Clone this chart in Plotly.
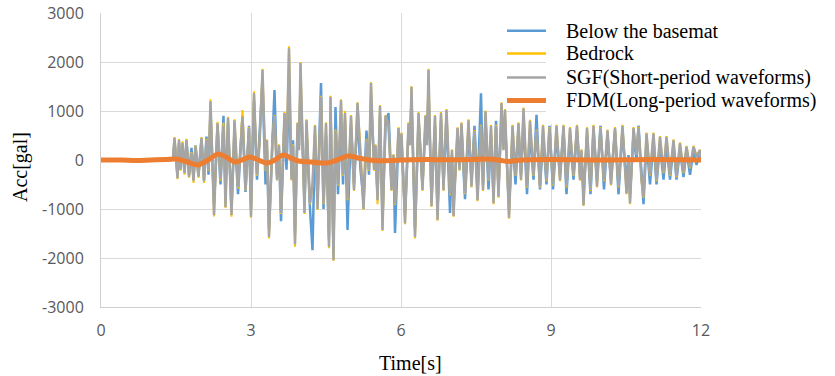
import plotly.graph_objects as go

# ---------------- data ----------------
TIME = [0.00, 1.40, 1.44, 1.47, 1.53, 1.56, 1.59, 1.63, 1.67, 1.71, 1.76, 1.81, 1.85, 1.89, 1.95,
        2.01, 2.06, 2.11, 2.15, 2.19, 2.26, 2.33, 2.39, 2.45, 2.49, 2.54, 2.61, 2.67, 2.74, 2.83,
        2.89, 2.96, 3.00, 3.06, 3.12, 3.17, 3.23, 3.29, 3.32, 3.36, 3.43, 3.47, 3.52, 3.56, 3.60,
        3.67, 3.71, 3.76, 3.81, 3.84, 3.88, 3.93, 3.96, 3.99, 4.07, 4.11, 4.18, 4.23, 4.28, 4.33,
        4.40, 4.45, 4.50, 4.56, 4.59, 4.65, 4.69, 4.74, 4.80, 4.84, 4.88, 4.93, 5.00, 5.06, 5.13,
        5.19, 5.25, 5.31, 5.36, 5.40, 5.46, 5.49, 5.53, 5.58, 5.63, 5.69, 5.75, 5.81, 5.85, 5.88,
        5.95, 5.98, 6.01, 6.08, 6.15, 6.18, 6.21, 6.28, 6.35, 6.43, 6.49, 6.52, 6.55, 6.61, 6.68,
        6.73, 6.80, 6.85, 6.91, 6.98, 7.02, 7.05, 7.13, 7.17, 7.21, 7.28, 7.35, 7.41, 7.47, 7.53,
        7.60, 7.64, 7.69, 7.75, 7.80, 7.85, 7.90, 7.95, 8.01, 8.05, 8.08, 8.16, 8.23, 8.29, 8.35,
        8.40, 8.45, 8.52, 8.58, 8.65, 8.71, 8.78, 8.84, 8.91, 8.97, 9.04, 9.11, 9.18, 9.25, 9.31,
        9.38, 9.45, 9.52, 9.58, 9.61, 9.65, 9.72, 9.79, 9.85, 9.92, 9.99, 10.06, 10.13, 10.20, 10.28,
        10.35, 10.43, 10.51, 10.55, 10.58, 10.65, 10.71, 10.75, 10.81, 10.85, 10.91, 10.98, 11.05, 11.11, 11.18,
        11.25, 11.31, 11.38, 11.45, 11.51, 11.58, 11.65, 11.71, 11.78, 11.85, 11.91, 11.98, 12.00]

SGF = [0, 0, 30, 450, -370, 410, -200, 350, -270, 410, -340, 140, -420, 270, -340,
       450, -430, 410, -200, 1200, -1120, 750, -400, 700, -960, 860, -1120, 810, -550, 880,
       -600, 650, -1160, 1360, -300, 300, 1840, -200, 400, -1570, 470, 900, -400, 300, -1080,
       960, 60, 2280, -400, 300, -1720, 750, 200, 1980, -1080, 810, -880, -500, 700, -1000,
       1290, -880, 750, -1770, 1290, -2040, 600, -500, 1220, -300, 960, -800, 900, -610, 1160,
       200, -1000, 410, -200, 1570, -200, 300, -820, 1100, -1430, 900, 700, -610, 100, -900,
       650, 0, 540, -1290, 750, 300, 1490, -1570, 960, -610, 900, 300, 1840, -940, 900,
       -1220, 960, -610, 1020, -700, 200, -1140, 650, -200, 750, -680, 810, -540, 590, -820,
       700, -610, 990, -400, 700, -880, 700, -750, 1160, 200, 1020, -1180, 700, -300, 750,
       -400, 1050, -540, 800, -300, 600, -540, 700, -410, 650, -500, 700, -410, 700, -540,
       650, -300, 700, -400, 200, -920, 650, -610, 700, -540, 650, -410, 600, -500, 650,
       -540, 700, -680, 0, -880, 650, 100, 650, -410, -750, 540, -300, 540, -410, 470,
       -250, 470, -300, 400, -330, 340, -250, 270, -150, 270, 70, 200, 0]

BEDROCK = [0, 0, 30, 470, -390, 430, -220, 380, -300, 430, -360, 160, -470, 290, -360,
           470, -470, 430, -220, 1240, -1150, 780, -420, 760, -980, 880, -1160, 830, -580, 1020,
           -620, 670, -1180, 1400, -320, 320, 1860, -220, 420, -1600, 490, 920, -420, 320, -1100,
           980, 80, 2320, -420, 320, -1770, 770, 220, 2000, -1100, 830, -900, -520, 720, -1020,
           1310, -900, 770, -1800, 1310, -2060, 620, -520, 1240, -320, 1000, -820, 920, -630, 1180,
           220, -1020, 430, -220, 1590, -220, 320, -900, 1120, -1450, 920, 720, -630, 120, -920,
           670, 20, 560, -1310, 770, 320, 1510, -1600, 980, -630, 920, 320, 1860, -960, 920,
           -1240, 980, -630, 1040, -720, 220, -1160, 670, -220, 770, -700, 830, -560, 610, -840,
           720, -630, 1010, -420, 720, -900, 720, -770, 1180, 220, 1040, -1200, 720, -320, 770,
           -420, 1070, -560, 820, -320, 620, -560, 720, -430, 670, -520, 720, -430, 720, -560,
           670, -320, 720, -420, 220, -940, 670, -630, 720, -560, 670, -430, 620, -520, 670,
           -560, 720, -700, 20, -900, 670, 120, 670, -430, -770, 560, -320, 560, -430, 490,
           -270, 490, -320, 420, -350, 360, -270, 290, -170, 290, 80, 210, 0]

BASEMAT = [0, 0, 20, 380, -300, 350, -150, 300, -250, 380, -300, 250, -380, 300, -300,
           420, -400, 480, -300, 1000, -900, 700, -500, 900, -700, 750, -1000, 600, -700, 900,
           -650, 700, -1000, 1200, -400, 500, 1600, -500, 200, -1400, 600, 1430, -300, 200, -1250,
           800, -200, 1500, -300, 400, -1500, 600, 300, 1500, -900, 600, -1000, -1840, 500, -800,
           1570, -1000, 500, -1600, 1000, -1800, 1080, -700, 900, -500, 800, -1430, 700, -500, 900,
           -200, -800, 600, -300, 1200, 0, 200, -700, 900, -1200, 700, 960, -500, 0, -1490,
           500, 100, 400, -1100, 600, 400, 1200, -1400, 800, -500, 700, 400, 1400, -800, 700,
           -1000, 800, -500, 900, -1080, 100, -900, 500, -100, 600, -800, 600, -400, 700, -600,
           1360, -500, 800, -600, 500, -700, 800, -600, 900, 300, 800, -1000, 500, -500, 600,
           -300, 800, -700, 600, -400, 920, -600, 500, -500, 700, -600, 500, -300, 600, -700,
           500, -400, 600, -300, 100, -700, 500, -700, 600, -400, 700, -600, 500, -400, 600,
           -700, 600, -500, 100, -700, 500, 0, 700, -300, -900, 400, -500, 400, -500, 300,
           -400, 300, -400, 300, -400, 200, -350, 200, -300, 200, -100, 150, 0]

FDM_TIME = [0.0, 0.4, 0.7, 1.0, 1.3, 1.5, 1.7, 1.94, 2.14, 2.34, 2.52, 2.68, 2.84, 2.98, 3.15,
            3.32, 3.48, 3.64, 3.80, 3.95, 4.20, 4.52, 4.72, 4.94, 5.20, 5.52, 6.0, 6.5, 7.0, 7.4,
            7.72, 7.95, 8.12, 8.40, 9.0, 10.0, 11.0, 12.0]
FDM = [0, 0, -10, 0, 10, 20, -30, -100, 0, 120, 50, -40, 10, 60, 0,
       -60, 0, 100, 40, -20, -40, -60, 0, 80, 30, -15, 0, 10, 5, 10,
       20, 0, -30, 0, 10, 0, 10, 0]

X_TICKS = [0, 3, 6, 9, 12]
Y_TICKS = [-3000, -2000, -1000, 0, 1000, 2000, 3000]
Y_TICK_TEXT = ["-3000", "-2000", "-1000", "0", "1000", "2000", "3000"]

NAMES = ["Below the basemat", "Bedrock", "SGF(Short-period waveforms)", "FDM(Long-period waveforms)"]
COLORS = ["#5B9BD5", "#FFC000", "#A5A5A5", "#ED7D31"]

# ---------------- figure ----------------
fig = go.Figure()
fig.add_trace(go.Scatter(x=TIME, y=BASEMAT, mode="lines", name=NAMES[0],
                         line=dict(color=COLORS[0], width=2.5), showlegend=False))
fig.add_trace(go.Scatter(x=TIME, y=BEDROCK, mode="lines", name=NAMES[1],
                         line=dict(color=COLORS[1], width=2), showlegend=False))
fig.add_trace(go.Scatter(x=TIME, y=SGF, mode="lines", name=NAMES[2],
                         line=dict(color=COLORS[2], width=2.5), showlegend=False))
fig.add_trace(go.Scatter(x=FDM_TIME, y=FDM, mode="lines", name=NAMES[3],
                         line=dict(color=COLORS[3], width=5, shape="spline"), showlegend=False))

W, H = 835, 376
L, R, T, B = 101, 701, 13, 307    # plot-area edges in pixels


def px(xp):
    return (xp - L) / (R - L)


def py(yp):
    return (B - yp) / (B - T)


shapes = [dict(type="rect", xref="paper", yref="paper", x0=px(546), x1=px(W + 10),
               y0=py(124), y1=py(-10), fillcolor="white", line=dict(width=0), layer="above")]
annotations = []
rows_y = [30.7, 53.5, 77.5, 100.5]
widths = [2.5, 2.5, 2.5, 5]
for name, col, ry, lw in zip(NAMES, COLORS, rows_y, widths):
    shapes.append(dict(type="line", xref="paper", yref="paper", x0=px(507), x1=px(546),
                       y0=py(ry), y1=py(ry), line=dict(color=col, width=lw), layer="above"))
    annotations.append(dict(text=name, xref="paper", yref="paper", x=px(564), y=py(ry),
                            xanchor="left", yanchor="middle", showarrow=False,
                            font=dict(family="Liberation Serif", size=20, color="black")))

annotations.append(dict(text="Time[s]", xref="paper", yref="paper", x=px(410), y=py(363),
                        xanchor="center", yanchor="middle", showarrow=False,
                        font=dict(family="Liberation Serif", size=20, color="black")))
annotations.append(dict(text="Acc[gal]", xref="paper", yref="paper", x=px(20), y=py(167),
                        xanchor="center", yanchor="middle", showarrow=False, textangle=-90,
                        font=dict(family="Liberation Serif", size=20, color="black")))

fig.update_layout(
    width=W, height=H,
    margin=dict(l=L, r=W - R, t=T, b=H - B, autoexpand=False),
    paper_bgcolor="white", plot_bgcolor="white",
    shapes=shapes, annotations=annotations, showlegend=False,
)
fig.update_xaxes(range=[0, 12], tickvals=X_TICKS, ticktext=[str(v) for v in X_TICKS],
                 showgrid=True, gridcolor="#D9D9D9", gridwidth=1, zeroline=False,
                 showline=True, linecolor="#CFCFCF", linewidth=1, ticks="",
                 ticklabelstandoff=9,
                 tickfont=dict(family="Open Sans", size=16, color="#595959"))
fig.update_yaxes(range=[-3000, 3000], tickvals=Y_TICKS, ticktext=Y_TICK_TEXT,
                 showgrid=True, gridcolor="#D9D9D9", gridwidth=1, zeroline=False,
                 showline=True, linecolor="#CFCFCF", linewidth=1, ticks="",
                 ticklabelstandoff=13,
                 tickfont=dict(family="Open Sans", size=16, color="#595959"))

# remove the default page margin so the figure fills the window exactly
fig.write_html("out.html", config={"displayModeBar": False},
               post_script="document.body.style.margin='0';")
